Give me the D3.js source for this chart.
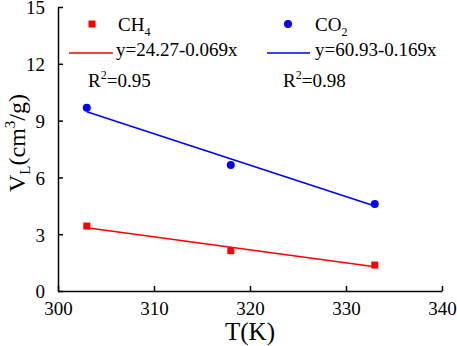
<!DOCTYPE html>
<html><head><meta charset="utf-8">
<script src="https://cdn.jsdelivr.net/npm/d3@7"></script>
<style>html,body{margin:0;padding:0;background:#fff}svg{display:block}svg text{font-family:"Liberation Serif","Times New Roman",serif !important;fill:#000}</style>
</head><body><svg id="c" width="457" height="346"></svg>
<script>
const temps = [303, 318, 333];
const ch4 = [3.43, 2.13, 1.37];
const co2 = [9.68, 6.66, 4.60];
const fitX = [303, 333];
const ch4Fit = [3.34, 1.28];
const co2Fit = [9.47, 4.49];
const xTicks = [300, 310, 320, 330, 340];
const yTicks = [0, 3, 6, 9, 12, 15];

const svg = d3.select('#c');
const x = d3.scaleLinear().domain([300, 340]).range([58, 442]);
const y = d3.scaleLinear().domain([0, 15]).range([291, 7]);

// axes
const xa = svg.append('g').attr('transform', 'translate(0,291)')
  .call(d3.axisBottom(x).tickValues(xTicks).tickSizeInner(-5).tickSizeOuter(0).tickPadding(11));
const ya = svg.append('g').attr('transform', 'translate(58,0)')
  .call(d3.axisLeft(y).tickValues(yTicks).tickSizeInner(-5).tickSizeOuter(0).tickPadding(12));
[xa, ya].forEach(a => {
  a.attr('font-family', 'Liberation Serif').attr('font-size', 19);
  a.select('.domain').attr('stroke', '#000').attr('stroke-width', 1.5);
  a.selectAll('.tick line').attr('stroke', '#000').attr('stroke-width', 1.5);
  a.selectAll('.tick text').attr('fill', '#000');
});
ya.selectAll('.tick text').attr('dx', '-1').attr('dy', '0.36em');

// fit lines
const line = d3.line().x((d, i) => x(fitX[i])).y(d => y(d));
svg.append('path').datum(ch4Fit).attr('d', line).attr('fill', 'none').attr('stroke', '#ff0000').attr('stroke-width', 1.7);
svg.append('path').datum(co2Fit).attr('d', line).attr('fill', 'none').attr('stroke', '#0000ff').attr('stroke-width', 1.7);

// points
svg.selectAll('.sq').data(ch4).enter().append('rect')
  .attr('x', (d, i) => x(temps[i]) - 3.5).attr('y', d => y(d) - 3.5)
  .attr('width', 7).attr('height', 7).attr('fill', '#ff0000');
svg.selectAll('.ci').data(co2).enter().append('circle')
  .attr('cx', (d, i) => x(temps[i])).attr('cy', d => y(d)).attr('r', 4).attr('fill', '#0000ff');

// legend
const lg = svg.append('g').attr('font-family', 'Liberation Serif').attr('font-size', 19);
lg.append('rect').attr('x', 88.5).attr('y', 20.5).attr('width', 7).attr('height', 7).attr('fill', '#ff0000');
let t = lg.append('text').attr('x', 118).attr('y', 31);
t.append('tspan').text('CH');
t.append('tspan').text('4').attr('font-size', 12).attr('dy', 5);
lg.append('line').attr('x1', 69).attr('x2', 113).attr('y1', 53).attr('y2', 53).attr('stroke', '#ff0000').attr('stroke-width', 1.7);
lg.append('text').attr('x', 116).attr('y', 56).text('y=24.27-0.069x');
t = lg.append('text').attr('x', 88).attr('y', 87);
t.append('tspan').text('R');
t.append('tspan').text('2').attr('font-size', 12).attr('dy', -8);
t.append('tspan').text('=0.95').attr('dy', 8);

lg.append('circle').attr('cx', 288).attr('cy', 24).attr('r', 4).attr('fill', '#0000ff');
t = lg.append('text').attr('x', 315).attr('y', 31);
t.append('tspan').text('CO');
t.append('tspan').text('2').attr('font-size', 12).attr('dy', 5);
lg.append('line').attr('x1', 267).attr('x2', 310).attr('y1', 53).attr('y2', 53).attr('stroke', '#0000ff').attr('stroke-width', 1.7);
lg.append('text').attr('x', 315).attr('y', 56).text('y=60.93-0.169x');
t = lg.append('text').attr('x', 283).attr('y', 87);
t.append('tspan').text('R');
t.append('tspan').text('2').attr('font-size', 12).attr('dy', -8);
t.append('tspan').text('=0.98').attr('dy', 8);

// axis titles
svg.append('text').attr('x', 250).attr('y', 340).attr('text-anchor', 'middle').attr('font-family', 'Liberation Serif').attr('font-size', 25).text('T(K)');
const yl = svg.append('text').attr('transform', 'translate(25,143) rotate(-90)').attr('text-anchor', 'middle').attr('font-family', 'Liberation Serif').attr('font-size', 24);
yl.append('tspan').text('V');
yl.append('tspan').text('L').attr('font-size', 15).attr('dy', 5);
yl.append('tspan').text('(cm').attr('dy', -5);
yl.append('tspan').text('3').attr('font-size', 15).attr('dy', -10);
yl.append('tspan').text('/g)').attr('dy', 10);
</script></body></html>
